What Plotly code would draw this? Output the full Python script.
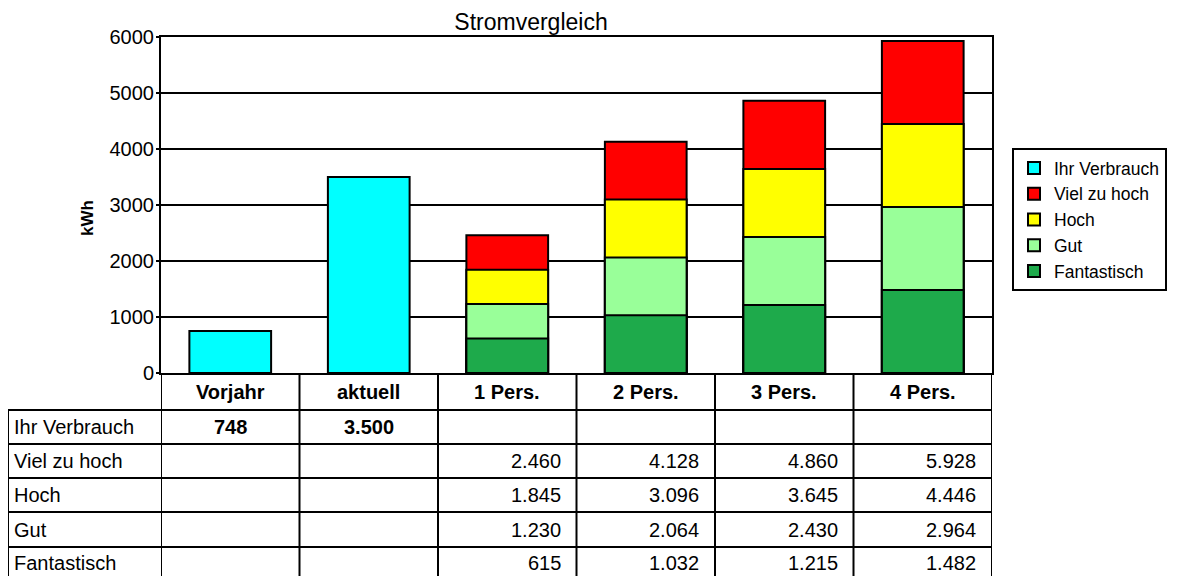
import plotly.graph_objects as go

categories = ["Vorjahr", "aktuell", "1 Pers.", "2 Pers.", "3 Pers.", "4 Pers."]
ihr_verbrauch = [748, 3500, None, None, None, None]
viel_zu_hoch = [None, None, 2460, 4128, 4860, 5928]
hoch = [None, None, 1845, 3096, 3645, 4446]
gut = [None, None, 1230, 2064, 2430, 2964]
fantastisch = [None, None, 615, 1032, 1215, 1482]

series = [
    ("Ihr Verbrauch", ihr_verbrauch, "#00FFFF"),
    ("Viel zu hoch", viel_zu_hoch, "#FF0000"),
    ("Hoch", hoch, "#FFFF00"),
    ("Gut", gut, "#99FF99"),
    ("Fantastisch", fantastisch, "#1EAA4B"),
]

FONT = "Arial, Liberation Sans, sans-serif"
W, H = 1190, 576
OFF = 8  # page body margin: screen = figure + 8
SL, SR, ST, SB = 161, 992, 37, 373
L, R, T, B = SL - OFF, SR - OFF, ST - OFF, SB - OFF
PH = B - T
PW = R - L


def py(p):
    return (SB - p) / PH


def px(p):
    return (p - SL) / PW


def fmt(v):
    return f"{v:,}".replace(",", ".")


fig = go.Figure()
for name, vals, col in series:
    fig.add_trace(go.Bar(
        x=categories, y=vals, name=name,
        marker=dict(color=col, line=dict(color="black", width=2)),
    ))

shapes = []
line = dict(color="black", width=2)
row_edges = [410, 444, 478, 512, 547]
for y in row_edges:
    shapes.append(dict(type="line", xref="paper", yref="paper", x0=px(8), x1=1, y0=py(y), y1=py(y), line=line))
bottom = py(620)
shapes.append(dict(type="line", xref="paper", yref="paper", x0=px(8), x1=px(8), y0=py(410), y1=bottom, line=line))
for i in range(len(categories) + 1):
    shapes.append(dict(type="line", xref="x", yref="paper", x0=i - 0.5, x1=i - 0.5, y0=0, y1=bottom, line=line))

annotations = []
for i, c in enumerate(categories):
    annotations.append(dict(x=i, y=py(391.5), xref="x", yref="paper", text=f"<b>{c}</b>",
                            showarrow=False, font=dict(family=FONT, size=20, color="black"),
                            xanchor="center", yanchor="middle"))
row_centers = [427, 461, 495, 529.5, 563]
for (name, vals, col), yc in zip(series, row_centers):
    annotations.append(dict(x=px(12), y=py(yc), xref="paper", yref="paper", text=name,
                            showarrow=False, font=dict(family=FONT, size=20, color="black"),
                            xanchor="left", yanchor="middle"))
    for i, v in enumerate(vals):
        if v is None:
            continue
        if name == "Ihr Verbrauch":
            annotations.append(dict(x=i, y=py(yc), xref="x", yref="paper", text=f"<b>{fmt(v)}</b>",
                                    showarrow=False, font=dict(family=FONT, size=20, color="black"),
                                    xanchor="center", yanchor="middle"))
        else:
            annotations.append(dict(x=i + 0.5, y=py(yc), xref="x", yref="paper", text=fmt(v),
                                    showarrow=False, font=dict(family=FONT, size=20, color="black"),
                                    xanchor="right", yanchor="middle", xshift=-14))
annotations.append(dict(x=px(87), y=py(218), xref="paper", yref="paper", text="<b>kWh</b>",
                        showarrow=False, textangle=-90, font=dict(family=FONT, size=17, color="black"),
                        xanchor="center", yanchor="middle"))

fig.update_layout(
    width=W, height=H,
    margin=dict(l=L, r=W - R, t=T, b=H - B, pad=0, autoexpand=False),
    paper_bgcolor="white", plot_bgcolor="white",
    barmode="overlay", bargap=0.41,
    title=dict(text="Stromvergleich", x=(531 - OFF) / W, xanchor="center", xref="container",
               y=1 - (22 - OFF) / H, yanchor="middle", yref="container",
               font=dict(family=FONT, size=23, color="black")),
    font=dict(family=FONT, size=20, color="black"),
    xaxis=dict(range=[-0.5, 5.5], showticklabels=False, showgrid=False, zeroline=False,
               showline=True, mirror=True, linecolor="black", linewidth=2, ticks=""),
    yaxis=dict(range=[0, 6000], dtick=1000, showgrid=True, gridcolor="black", gridwidth=2,
               zeroline=False, showline=True, mirror=True, linecolor="black", linewidth=2,
               ticks="outside", ticklen=3, tickwidth=2, tickcolor="black",
               tickfont=dict(family=FONT, size=20, color="black"), ticklabelstandoff=-2),
    legend=dict(x=px(1012), y=py(148), xanchor="left", yanchor="top", xref="paper", yref="paper",
                bordercolor="black", borderwidth=2, bgcolor="white",
                font=dict(family=FONT, size=17.5, color="black"), traceorder="normal"),
    shapes=shapes, annotations=annotations,
)

fig.write_html("out.html")
